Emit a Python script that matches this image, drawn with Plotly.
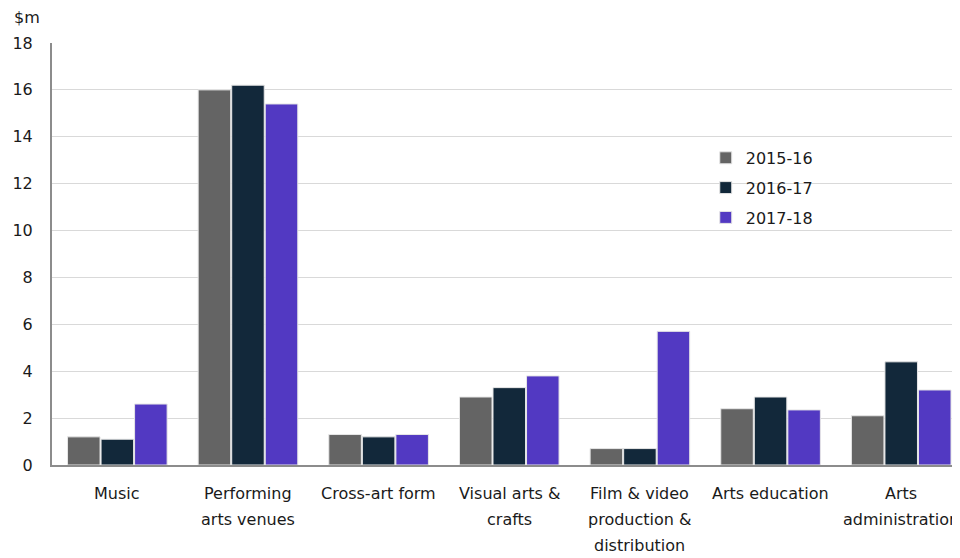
import plotly.graph_objects as go

categories = ["Music", "Performing<br>arts venues", "Cross-art form", "Visual arts &<br>crafts",
              "Film & video<br>production &<br>distribution", "Arts education", "Arts<br>administration"]
series_names = ["2015-16", "2016-17", "2017-18"]
v2015 = [1.2, 16.0, 1.3, 2.9, 0.7, 2.4, 2.1]
v2016 = [1.1, 16.2, 1.2, 3.3, 0.7, 2.9, 4.4]
v2017 = [2.6, 15.4, 1.3, 3.8, 5.7, 2.35, 3.2]
colors = ["#646464", "#12283A", "#5239C2"]
yticks = [0, 2, 4, 6, 8, 10, 12, 14, 16, 18]

fig = go.Figure()
for name, vals, col in zip(series_names, [v2015, v2016, v2017], colors):
    fig.add_trace(go.Bar(x=list(range(len(categories))), y=vals, name=name, legendgroup=name,
                         marker=dict(color=col, line=dict(color="#E6E6E6", width=1))))

font = "DejaVu Sans, sans-serif"
txt = "#1a1a1a"

annotations = [dict(text="$m", xref="paper", yref="paper", x=-0.044, y=1.0, yshift=26,
                    xanchor="left", yanchor="middle", showarrow=False, font=dict(size=16))]
for i, cat in enumerate(categories):
    for k, line in enumerate(cat.split("<br>")):
        annotations.append(dict(text=line, xref="x", yref="paper", x=i, y=0,
                                yshift=-(28 + 26 * k), xanchor="center", yanchor="middle",
                                showarrow=False, font=dict(size=16)))

fig.update_layout(
    width=952, height=550,
    margin=dict(l=44, r=0, t=35, b=93, autoexpand=False),
    paper_bgcolor="white", plot_bgcolor="white",
    barmode="group", bargap=0.23, bargroupgap=0.03,
    font=dict(family=font, size=16, color=txt),
    showlegend=True,
    legend=dict(x=0.72, y=0.768, xanchor="left", yanchor="top",
                font=dict(size=16), tracegroupgap=6, itemwidth=30, traceorder="grouped",
                bgcolor="rgba(0,0,0,0)"),
    xaxis=dict(tickmode="array", tickvals=list(range(len(categories))),
               ticktext=["" for _ in categories], automargin=False,
               range=[-0.5, 6.45], showline=True, linecolor="#8C8C8C", linewidth=2,
               ticks="", showgrid=False),
    yaxis=dict(range=[0, 18], tickvals=yticks, showline=True, linecolor="#8C8C8C", linewidth=2,
               gridcolor="#D9D9D9", gridwidth=1, ticks="", tickfont=dict(size=16),
               ticklabelstandoff=14, zeroline=False, automargin=False),
    annotations=annotations,
)
fig.write_html("out.html")
